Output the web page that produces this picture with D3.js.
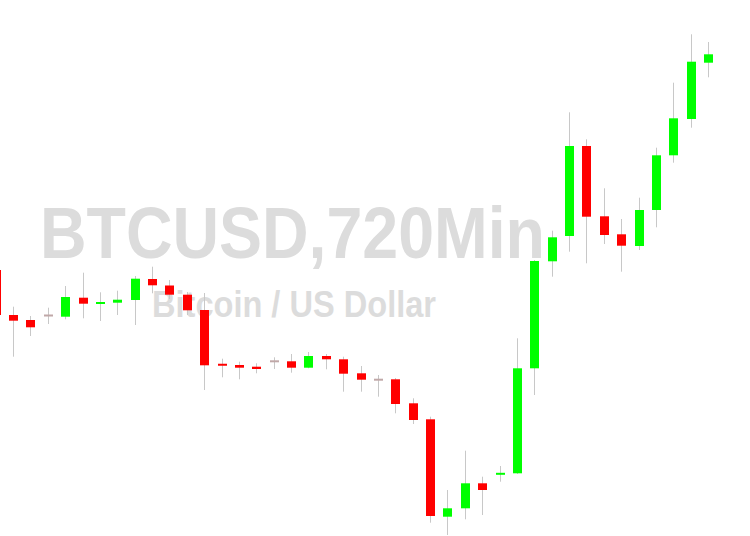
<!DOCTYPE html>
<html>
<head>
<meta charset="utf-8">
<script src="https://cdn.jsdelivr.net/npm/d3@7"></script>
<style>
  html, body { margin: 0; padding: 0; background: #ffffff; }
  svg { display: block; }
</style>
</head>
<body>
<svg id="chart" width="750" height="536"></svg>
<script>
// Candle index labels (12-hour bars)
const categories = d3.range(42).map(i => "bar" + i);
// Prices in chart units
const openV  = [266, 221, 216, 220.5, 219.3, 238.3, 232.5, 233.3, 236, 257, 250.5, 241.3, 226, 172, 171, 169.3, 174.7, 174.7, 168.3, 180, 176.7, 162.7, 156.3, 156.7, 132.7, 116.7, 19.3, 27.7, 52.7, 61.7, 62.7, 167.7, 274.7, 300, 390, 319.7, 301.7, 290, 326, 380.7, 417, 473.3];
const closeV = [221, 215.3, 208.7, 220.5, 239, 232.3, 234, 236.3, 257.3, 250.7, 241.3, 225.7, 170.7, 170.5, 168.3, 167, 174.7, 168.3, 180, 176.7, 162.3, 156.3, 156.3, 132, 116, 20, 27.7, 52.7, 46, 62.7, 167.7, 275, 298.7, 390, 319.3, 301, 290.3, 326, 380.7, 417.7, 474.3, 481.7];
const highV  = [268, 229.3, 220, 228.3, 250, 263.3, 243.7, 245.3, 260, 269.3, 256, 244, 243, 177.3, 174.3, 172.7, 178.7, 182, 184, 182, 179.3, 170, 161, 158, 137.7, 119.3, 46, 85.3, 59.3, 70, 197.7, 276, 305.3, 423.7, 396.7, 347.7, 317, 338.3, 388.3, 453.3, 501.7, 494];
const lowV   = [218, 179.3, 200, 212, 216.7, 217.7, 215, 221, 211, 242.7, 237, 221, 146, 158.7, 156.7, 162.7, 167, 163.3, 167.7, 166.7, 144.3, 144.3, 139.3, 122.7, 112, 13.3, 1, 16.7, 21, 54.3, 62, 141, 259.3, 284.3, 272.7, 292, 264.3, 286, 308.7, 373.3, 408.3, 458.7];

const W = 750, H = 536;
const svg = d3.select("#chart");

const x = d3.scalePoint().domain(categories).range([-3.875, 708.5]);
const y = d3.scaleLinear().domain([0, 536]).range([536, 0]);
const bodyW = 9;

// Watermark
svg.append("text")
  .attr("x", 292.5).attr("y", 258)
  .attr("text-anchor", "middle")
  .attr("font-family", "'Liberation Sans', Arial, sans-serif")
  .attr("font-weight", "bold")
  .attr("font-size", 72)
  .attr("fill", "#dcdcdc")
  .attr("textLength", 505)
  .attr("lengthAdjust", "spacingAndGlyphs")
  .text("BTCUSD,720Min");

svg.append("text")
  .attr("x", 294).attr("y", 317)
  .attr("text-anchor", "middle")
  .attr("font-family", "'Liberation Sans', Arial, sans-serif")
  .attr("font-weight", "bold")
  .attr("font-size", 37)
  .attr("fill", "#dcdcdc")
  .attr("textLength", 284)
  .attr("lengthAdjust", "spacingAndGlyphs")
  .text("Bitcoin / US Dollar");

const data = categories.map((c, i) => ({c, o: openV[i], h: highV[i], l: lowV[i], cl: closeV[i]}));
const px = d => Math.floor(x(d.c));

const g = svg.append("g");
// wicks
g.selectAll("line.wick").data(data).join("line")
  .attr("class", "wick")
  .attr("x1", d => px(d) + 0.5)
  .attr("x2", d => px(d) + 0.5)
  .attr("y1", d => y(d.h))
  .attr("y2", d => y(d.l))
  .attr("stroke", "#c8c8c8")
  .attr("stroke-width", 1);

// bodies
g.selectAll("rect.body").data(data).join("rect")
  .attr("class", "body")
  .attr("x", d => px(d) - 4)
  .attr("width", bodyW)
  .attr("y", d => {
    const t = Math.min(y(d.o), y(d.cl));
    const hgt = Math.abs(y(d.o) - y(d.cl));
    return hgt < 1.5 ? (y(d.o) + y(d.cl)) / 2 - 1 : t;
  })
  .attr("height", d => Math.max(2, Math.abs(y(d.o) - y(d.cl))))
  .attr("fill", d => d.cl > d.o ? "#00ff00" : (d.cl < d.o ? "#ff0000" : "#c0a8a8"));
</script>
</body>
</html>
